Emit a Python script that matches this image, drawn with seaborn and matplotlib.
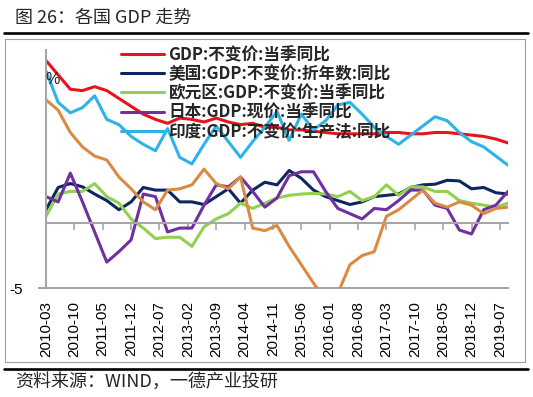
import matplotlib
matplotlib.use("Agg")
import matplotlib.pyplot as plt
import seaborn as sns
import pandas as pd
from matplotlib.lines import Line2D
from matplotlib.patches import Rectangle

# quarterly data, 2010Q1 - 2019Q3
quarters = pd.period_range("2010Q1", "2019Q3", freq="Q")

china = [12.4, 11.3, 10.2, 10.1, 10.4, 10.1, 9.5, 8.9, 8.3, 7.9, 7.6, 8.0, 7.9, 7.7, 8.0, 7.7,
         7.5, 7.6, 7.3, 7.3, 7.1, 7.1, 7.0, 6.9, 6.8, 6.8, 6.8, 6.8, 6.9, 6.9, 6.8, 6.8,
         6.9, 6.9, 6.8, 6.7, 6.6, 6.4, 6.1]
usa = [1.0, 2.7, 3.0, 2.75, 2.2, 1.7, 1.0, 1.6, 2.7, 2.5, 2.5, 1.6, 1.6, 1.4, 2.0, 2.6,
       1.5, 2.5, 3.1, 2.9, 4.0, 3.4, 2.5, 2.0, 1.7, 1.4, 1.6, 2.0, 2.1, 2.2, 2.7, 2.9,
       2.95, 3.25, 3.2, 2.6, 2.7, 2.3, 2.2]
euro = [0.5, 2.2, 2.4, 2.4, 3.0, 2.0, 1.5, 0.3, -0.4, -1.2, -1.1, -1.1, -1.8, -0.3, 0.3, 0.7,
        1.5, 1.1, 1.5, 1.9, 2.1, 2.2, 2.25, 2.2, 2.0, 2.4, 1.7, 2.0, 2.9, 2.1, 2.75, 2.75,
        2.4, 2.4, 1.7, 1.5, 1.35, 1.2, 1.5]
japan = [2.0, 1.6, 3.8, 1.6, -0.7, -3.0, -2.2, -1.3, 2.2, 2.0, -0.7, -0.4, -0.4, 1.35, 2.9, 2.75,
         3.5, 2.4, 1.2, 1.9, 3.6, 3.9, 3.9, 2.4, 1.1, 0.7, 0.3, 1.1, 1.0, 1.7, 2.5, 2.5,
         1.35, 1.1, -0.55, -0.85, 1.0, 1.35, 2.4]
india = [11.6, 9.2, 8.4, 8.8, 9.7, 7.9, 7.5, 6.6, 6.0, 5.5, 7.2, 5.0, 4.5, 6.0, 7.4, 6.2,
         5.0, 6.2, 7.3, 8.5, 6.3, 8.3, 7.1, 7.8, 9.0, 9.2, 8.3, 7.3, 6.6, 6.0, 6.7, 7.4,
         8.1, 7.8, 6.9, 6.2, 5.8, 5.1, 4.4]
brazil = [9.4, 8.6, 6.9, 5.8, 5.1, 4.8, 3.5, 2.6, 1.6, 1.0, 2.5, 2.6, 2.9, 4.1, 3.0, 2.6,
          3.5, -0.4, -0.6, -0.2, -1.8, -3.2, -4.6, -5.9, -5.4, -3.2, -2.5, -2.2, 0.5, 1.0, 1.75, 2.5,
          1.5, 1.2, 1.6, 1.35, 0.7, 1.1, 1.2]

names = ["GDP:不变价:当季同比", "美国:GDP:不变价:折年数:同比", "欧元区:GDP:不变价:当季同比",
         "日本:GDP:现价:当季同比", "印度:GDP:不变价:生产法:同比", "巴西:GDP:不变价:当季同比"]
colors = ["#E8141C", "#0E2660", "#92D050", "#7030A0", "#2DB3E6", "#DB8A43"]

tick_labels = ["2010-03", "2010-10", "2011-05", "2011-12", "2012-07", "2013-02", "2013-09",
               "2014-04", "2014-11", "2015-06", "2016-01", "2016-08", "2017-03", "2017-10",
               "2018-05", "2018-12", "2019-07"]


def month_index(s):
    y, m = s.split("-")
    return (int(y) - 2010) * 12 + int(m) - 3


months = [month_index(f"{q.year}-{q.quarter * 3:02d}") for q in quarters]
ticks = [month_index(t) for t in tick_labels]

series = [china, usa, euro, japan, india, brazil]
df = pd.DataFrame({
    "month": months * len(series),
    "value": sum(series, []),
    "series": [n for n in names for _ in months],
})

sns.set_theme(style="white")
plt.rcParams["font.family"] = ["Liberation Sans", "Noto Sans CJK SC", "DejaVu Sans"]
cjk = ["Noto Sans CJK SC", "DejaVu Sans"]

fig = plt.figure(figsize=(5.33, 3.97), dpi=100)
ax = fig.add_axes([46 / 533, 1 - 288.3 / 397, 462 / 533, 238.3 / 397])

sns.lineplot(data=df, x="month", y="value", hue="series", hue_order=names,
             palette=dict(zip(names, colors)), linewidth=2.2, legend=False, sort=False, ax=ax)

ax.set_xlim(0, 114)
ax.set_ylim(-5, 13.2)
ax.set_xlabel("")
ax.set_ylabel("")

gray = "#A6A6A6"
ax.spines["top"].set_visible(False)
ax.spines["right"].set_visible(False)
ax.spines["left"].set_color(gray)
ax.spines["left"].set_linewidth(1.5)
ax.spines["bottom"].set_position(("data", 0))
ax.spines["bottom"].set_color(gray)
ax.spines["bottom"].set_linewidth(1.5)

ax.set_xticks(ticks)
ax.tick_params(axis="x", bottom=True, direction="out", length=5, width=1.2,
               color=gray, labelbottom=False)
ax.set_yticks([-5])
ax.set_yticklabels(["-5"])
ax.tick_params(axis="y", left=True, length=6, width=1.5, color=gray, pad=11,
               labelsize=11, labelcolor="black")

sec = ax.secondary_xaxis("bottom")
sec.set_ticks(ticks, labels=tick_labels)
sec.tick_params(bottom=True, length=0, labelrotation=90, pad=9, labelsize=11, labelcolor="black")
sec.spines["bottom"].set_color(gray)
sec.spines["bottom"].set_linewidth(1.5)

fig.text(53 / 533, 1 - 80 / 397, "%", ha="center", va="center", fontsize=11.5)

handles = [Line2D([], [], color=c, lw=2.2) for c in colors[:5]]
fig.legend(handles, names[:5], loc="upper left", bbox_to_anchor=(121 / 533, 1 - 46 / 397),
           frameon=False, prop={"family": cjk, "weight": "bold", "size": 12},
           handlelength=2.6, handletextpad=0.25, labelspacing=0.07,
           borderpad=0, borderaxespad=0)

# frame, rules, title and source
fig.add_artist(Rectangle((5 / 533, 1 - 361.6 / 397), 520 / 533, 323 / 397,
                         transform=fig.transFigure, fill=False, ec="#A0A0A0", lw=0.8))
for yy in [33, 369]:
    fig.add_artist(Line2D([4 / 533, 528 / 533], [1 - yy / 397] * 2, color="black", lw=1.9,
                          transform=fig.transFigure))

fig.text(15 / 533, 1 - 18 / 397, "图 26：各国 GDP 走势", va="center", ha="left",
         fontsize=13, family=cjk)
fig.text(15 / 533, 1 - 382 / 397, "资料来源：WIND，一德产业投研", va="center", ha="left",
         fontsize=13, family=cjk)

fig.savefig("out.png", dpi=100, facecolor="white")
